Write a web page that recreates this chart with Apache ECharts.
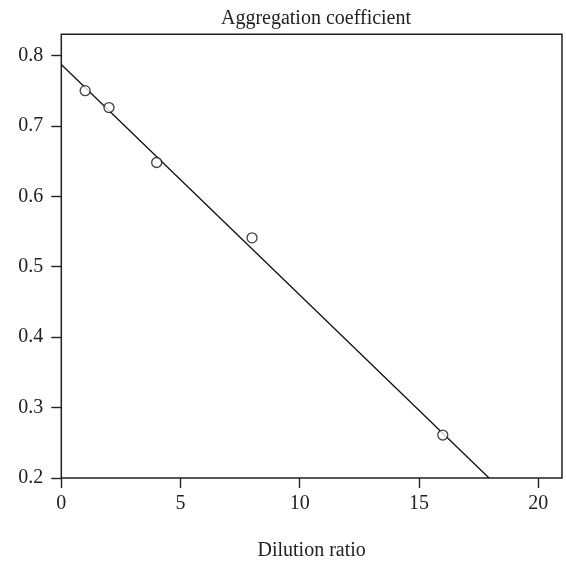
<!DOCTYPE html>
<html>
<head>
<meta charset="utf-8">
<script src="https://cdn.jsdelivr.net/npm/echarts@6/dist/echarts.min.js"></script>
<style>html,body{margin:0;padding:0;background:#fff;}#c{width:566px;height:566px;}</style>
</head>
<body>
<div id="c"></div>
<script>
var titleText = 'Aggregation coefficient';
var xName = 'Dilution ratio';
var dilution = [1, 2, 4, 8, 16];
var coefficient = [0.750, 0.726, 0.648, 0.541, 0.261];
var fitX = [0, 17.94];
var fitY = [0.787, 0.200];
var xTicks = [0, 5, 10, 15, 20];
var yTicks = [0.2, 0.3, 0.4, 0.5, 0.6, 0.7, 0.8];

var font = 'Liberation Serif';
var ink = '#222';
var chart = echarts.init(document.getElementById('c'), null, {renderer: 'canvas'});
chart.setOption({
  animation: false,
  backgroundColor: '#fff',
  title: {
    text: titleText, left: 311, top: 4, textAlign: 'center',
    textStyle: {fontFamily: font, fontSize: 20, fontWeight: 'normal', color: ink}
  },
  grid: {left: 61.3, right: 4, top: 34.3, bottom: 86, show: true, borderColor: ink, borderWidth: 1.5, backgroundColor: 'transparent'},
  xAxis: {
    type: 'value', min: 0, max: 21,
    name: xName, nameLocation: 'middle', nameGap: 63,
    nameTextStyle: {fontFamily: font, fontSize: 20, color: ink},
    axisLine: {show: false},
    splitLine: {show: false},
    axisTick: {show: true, inside: false, length: 10, lineStyle: {color: ink, width: 1.4}, customValues: xTicks},
    axisLabel: {fontFamily: font, fontSize: 20, color: ink, margin: 16, customValues: xTicks, formatter: function (v) { return String(v); }}
  },
  yAxis: {
    type: 'value', min: 0.2, max: 0.83,
    axisLine: {show: false},
    splitLine: {show: false},
    axisTick: {show: true, inside: false, length: 10, lineStyle: {color: ink, width: 1.4}, customValues: yTicks},
    axisLabel: {fontFamily: font, fontSize: 20, color: ink, margin: 18, customValues: yTicks, formatter: function (v) { return v.toFixed(1); }}
  },
  series: [
    {
      type: 'line', data: fitX.map(function (x, i) { return [x, fitY[i]]; }),
      showSymbol: false, symbol: 'none', lineStyle: {color: '#111', width: 1.3}, z: 2
    },
    {
      type: 'scatter', data: dilution.map(function (x, i) { return [x, coefficient[i]]; }),
      symbol: 'circle', symbolSize: 10,
      itemStyle: {color: '#fff', borderColor: '#111', borderWidth: 1.3}, z: 3
    }
  ]
});
</script>
</body>
</html>
